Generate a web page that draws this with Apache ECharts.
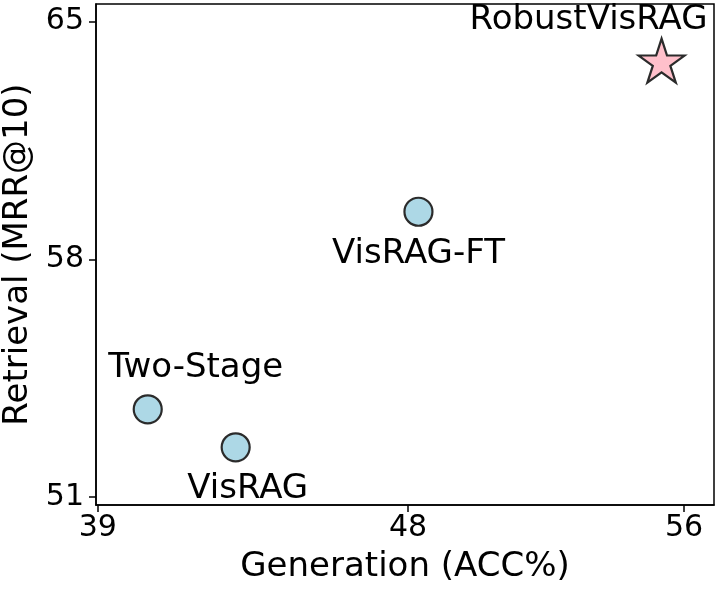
<!DOCTYPE html>
<html>
<head>
<meta charset="utf-8">
<script src="https://cdn.jsdelivr.net/npm/echarts@6/dist/echarts.min.js"></script>
<style>
  html, body { margin: 0; padding: 0; background: #fff; }
  #chart { width: 718px; height: 592px; }
</style>
</head>
<body>
<div id="chart"></div>
<script>
// ---- data ----
const methods = ['Two-Stage', 'VisRAG', 'VisRAG-FT', 'RobustVisRAG'];
const generation = [40.45, 43.0, 48.3, 55.35];   // ACC%
const retrieval = [53.58, 52.46, 59.4, 63.85];   // MRR@10
const xTicks = [39, 48, 56];
const yTicks = [51, 58, 65];

// ---- styles (not data) ----
const FONT = 'DejaVu Sans';
const labelOffsets = {
  'Two-Stage': [48, -41],
  'VisRAG': [12, 42],
  'VisRAG-FT': [0, 42],
  'RobustVisRAG': [-73, -41]
};
const STAR = 'path://M0,-100 L22.45,-30.9 L95.1,-30.9 L36.3,11.8 L58.8,80.9 L0,38.2 L-58.8,80.9 L-36.3,11.8 L-95.1,-30.9 L-22.45,-30.9 Z';

const data = methods.map((m, i) => {
  const isStar = m === 'RobustVisRAG';
  return {
    name: m,
    value: [generation[i], retrieval[i]],
    symbol: isStar ? STAR : 'circle',
    symbolSize: isStar ? [46, 44] : 28,
    itemStyle: {
      color: isStar ? '#ffc0cb' : '#add8e6',
      borderColor: '#2b2b2b',
      borderWidth: 2.2,
      opacity: 1
    },
    label: {
      show: true,
      position: 'inside',
      align: 'center',
      verticalAlign: 'middle',
      offset: labelOffsets[m],
      formatter: m,
      fontFamily: FONT,
      fontSize: 34,
      color: '#000',
      opacity: 1
    }
  };
});

const chart = echarts.init(document.getElementById('chart'), null, { renderer: 'canvas' });
chart.setOption({
  animation: false,
  backgroundColor: '#fff',
  grid: {
    left: 96, right: 4, top: 4, bottom: 87,
    containLabel: false,
    outerBoundsMode: 'none',
    show: true, borderColor: '#000', borderWidth: 1.5, backgroundColor: 'transparent'
  },
  xAxis: {
    type: 'value',
    min: 38.95, max: 56.87,
    name: 'Generation (ACC%)',
    nameLocation: 'middle',
    nameGap: 45,
    nameTextStyle: { fontFamily: FONT, fontSize: 34, color: '#000' },
    axisLine: { show: true, lineStyle: { color: '#000', width: 1.5 } },
    axisTick: { show: true, length: 7, customValues: xTicks, lineStyle: { color: '#000', width: 1.5 } },
    axisLabel: { customValues: xTicks, fontFamily: FONT, fontSize: 30, color: '#000', margin: 8 },
    splitLine: { show: false }
  },
  yAxis: {
    type: 'value',
    min: 50.76, max: 65.52,
    name: 'Retrieval (MRR@10)',
    nameLocation: 'middle',
    nameGap: 61,
    nameRotate: 90,
    nameTextStyle: { fontFamily: FONT, fontSize: 34, color: '#000' },
    axisLine: { show: true, lineStyle: { color: '#000', width: 1.5 } },
    axisTick: { show: true, length: 7, customValues: yTicks, lineStyle: { color: '#000', width: 1.5 } },
    axisLabel: { customValues: yTicks, fontFamily: FONT, fontSize: 30, color: '#000', margin: 12 },
    splitLine: { show: false }
  },
  series: [{
    type: 'scatter',
    data: data,
    itemStyle: { opacity: 1 },
    z: 3
  }]
});
</script>
</body>
</html>
